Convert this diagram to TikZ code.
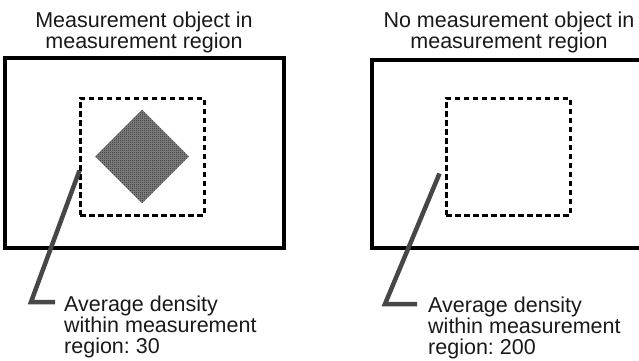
\documentclass[tikz,border=0pt]{standalone}
\usepackage{fontspec}
\setmainfont{Liberation Sans}
\frenchspacing
\usetikzlibrary{patterns.meta, shapes.geometric, calc}

\tikzdeclarepattern{
  name=finechecker,
  type=uncolored,
  bounding box={(0pt,0pt) and (2pt,2pt)},
  tile size={(2pt,2pt)},
  code={
    \fill (0pt,0pt) rectangle (1pt,1pt);
    \fill (1pt,1pt) rectangle (2pt,2pt);
  }
}

\begin{document}
\begin{tikzpicture}[x=1pt, y=-1pt,
    label/.style={font=\fontsize{21.5}{21}\selectfont, text=black!90, inner sep=0pt},
    frame/.style={line width=3.4pt},
    region/.style={draw, line width=3pt, dash pattern=on 5.5pt off 3.5pt, minimum width=124pt, minimum height=117pt, inner sep=0pt},
    leader/.style={line width=4.5pt, black!72}]
    \useasboundingbox (0,0) rectangle (639,360);

    % Titles
    \node[label, align=center, anchor=north] (titleL) at (144,11.3) {Measurement object in\\measurement region};
    \node[label, align=center, anchor=north] (titleR) at (509,11.3) {No measurement object in\\measurement region};

    % Frames
    \draw[frame] (5,58) rectangle (284,248);
    \draw[frame] (639,60) -- (372,60) -- (372,248) -- (639,248);

    % Measurement regions
    \node[region] (regionL) at (142,156.5) {};
    \node[region] (regionR) at (508,156.5) {};

    % Object
    \node[diamond, minimum width=94pt, minimum height=94pt, inner sep=0pt, preaction={fill=black!45}, pattern={finechecker}] (objL) at (regionL.center) {};

    % Notes
    \node[label, align=left, anchor=north west] (noteL) at (64,296) {Average density\\within measurement\\region: 30};
    \node[label, align=left, anchor=north west] (noteR) at (428,296.5) {Average density\\within measurement\\region: 200};

    % Leaders
    \coordinate (bendL) at (31,302);
    \coordinate (bendR) at (385,304);
    \draw[leader] ($(regionL.west)+(1,14)$) -- (bendL) -- ($(noteL.west |- bendL)+(-9,0)$);
    \draw[leader] ($(regionR.west)+(-5,17)$) -- (bendR) -- ($(noteR.west |- bendR)+(-11,0)$);
\end{tikzpicture}
\end{document}
